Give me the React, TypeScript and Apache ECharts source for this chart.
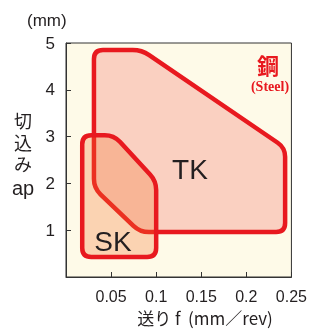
import React, { useEffect, useRef } from "react";
import * as echarts from "echarts";

// Data (feed f in mm/rev, depth of cut ap in mm)
const xTicks = [0, 0.05, 0.1, 0.15, 0.2, 0.25];
const yTicks = [0, 1, 2, 3, 4, 5];
const tkF = [0.031, 0.084, 0.243, 0.243, 0.082, 0.031];
const tkAp = [4.85, 4.85, 2.76, 0.96, 0.96, 1.9];
const skF = [0.018, 0.018, 0.053, 0.1, 0.1];
const skAp = [0.43, 3.03, 3.03, 2.05, 0.43];
const regionNames = ["TK", "SK"];

const RED = "#E8191F";
const INK = "#231F20";
const SANS = "'Liberation Sans', Arial, Helvetica, sans-serif";
const CJK = "'Noto Sans CJK JP', 'Liberation Sans', sans-serif";
const CJK_TIGHT = "'Liberation Sans', 'Noto Sans CJK JP', sans-serif";

function roundedPath(pts: number[][], r: number): string {
  const n = pts.length;
  let d = "";
  for (let i = 0; i < n; i++) {
    const p = pts[i];
    const prev = pts[(i - 1 + n) % n];
    const next = pts[(i + 1) % n];
    const l1 = Math.hypot(prev[0] - p[0], prev[1] - p[1]);
    const l2 = Math.hypot(next[0] - p[0], next[1] - p[1]);
    const r1 = Math.min(r, l1 / 2);
    const r2 = Math.min(r, l2 / 2);
    const a = [p[0] + ((prev[0] - p[0]) * r1) / l1, p[1] + ((prev[1] - p[1]) * r1) / l1];
    const b = [p[0] + ((next[0] - p[0]) * r2) / l2, p[1] + ((next[1] - p[1]) * r2) / l2];
    d += (i === 0 ? "M" : "L") + a[0].toFixed(2) + "," + a[1].toFixed(2);
    d += "Q" + p[0].toFixed(2) + "," + p[1].toFixed(2) + " " + b[0].toFixed(2) + "," + b[1].toFixed(2);
  }
  return d + "Z";
}

function makeRegion(name: string, fs: number[], aps: number[], fill: string, radius: number) {
  const data = fs.map((f, i) => [f, aps[i]]);
  return {
    type: "custom",
    name,
    data,
    z: 3,
    renderItem: (params: any, api: any) => {
      if (params.dataIndex !== 0) return null;
      const pts = data.map((v) => api.coord(v));
      return {
        type: "path",
        shape: { pathData: roundedPath(pts, radius) },
        style: { fill, stroke: RED, lineWidth: 4.5, lineJoin: "round" },
      };
    },
  };
}

export default function App() {
  const ref = useRef<HTMLDivElement>(null);
  useEffect(() => {
    if (!ref.current) return;
    const chart = echarts.init(ref.current, null, { renderer: "svg" });
    chart.setOption({
      animation: false,
      grid: {
        left: 66,
        top: 43,
        width: 233,
        height: 234,
        show: true,
        backgroundColor: "#FEFAE8",
        borderColor: "#333",
        borderWidth: 1,
      },
      xAxis: {
        type: "value",
        min: xTicks[0],
        max: xTicks[xTicks.length - 1],
        interval: 0.05,
        axisLine: { show: true, lineStyle: { color: "#333", width: 1 } },
        axisTick: { show: true, inside: true, length: 5, lineStyle: { color: "#333" } },
        splitLine: { show: false },
        axisLabel: {
          margin: 11,
          fontSize: 16,
          lineHeight: 16,
          fontFamily: SANS,
          color: INK,
          formatter: (v: number) => (v === 0 ? "" : String(Number(v.toFixed(2)))),
        },
      },
      yAxis: {
        type: "value",
        min: yTicks[0],
        max: yTicks[yTicks.length - 1],
        interval: 1,
        axisLine: { show: true, lineStyle: { color: "#333", width: 1 } },
        axisTick: { show: true, inside: true, length: 5, lineStyle: { color: "#333" } },
        splitLine: { show: false },
        axisLabel: {
          margin: 11,
          fontSize: 17,
          fontFamily: SANS,
          color: INK,
          formatter: (v: number) => (v === 0 ? "" : String(v)),
        },
      },
      series: [
        makeRegion(regionNames[0], tkF, tkAp, "rgba(240,90,80,0.26)", 9),
        makeRegion(regionNames[1], skF, skAp, "rgba(245,110,40,0.28)", 9),
      ],
      graphic: [
        { type: "text", left: 27, top: 12, style: { text: "(mm)", fontSize: 17, fontFamily: SANS, fill: INK } },
        { type: "text", x: 23, y: 122, style: { text: "切", fontSize: 18, lineHeight: 18, fontFamily: CJK_TIGHT, fill: INK, align: "center", verticalAlign: "middle" } },
        { type: "text", x: 23, y: 143.5, style: { text: "込", fontSize: 18, lineHeight: 18, fontFamily: CJK_TIGHT, fill: INK, align: "center", verticalAlign: "middle" } },
        { type: "text", x: 23, y: 165, style: { text: "み", fontSize: 18, lineHeight: 18, fontFamily: CJK_TIGHT, fill: INK, align: "center", verticalAlign: "middle" } },
        { type: "text", x: 23, y: 188, style: { text: "ap", fontSize: 20, lineHeight: 20, fontFamily: SANS, fill: INK, align: "center", verticalAlign: "middle" } },
        { type: "text", x: 205, y: 317, style: { text: "送り f  (mm／rev)", fontSize: 17, lineHeight: 17, fontFamily: CJK, fill: INK, align: "center", verticalAlign: "middle" } },
        { type: "text", x: 190, y: 169, z: 10, style: { text: regionNames[0], fontSize: 28, fontFamily: SANS, fill: INK, align: "center", verticalAlign: "middle" } },
        { type: "text", x: 113, y: 241, z: 10, style: { text: regionNames[1], fontSize: 28, fontFamily: SANS, fill: INK, align: "center", verticalAlign: "middle" } },
        { type: "text", x: 268, y: 64, z: 10, style: { text: "鋼", fontSize: 22, fontWeight: "bold", fontFamily: CJK, fill: RED, align: "center", verticalAlign: "middle" } },
        { type: "text", x: 270, y: 86, z: 10, style: { text: "(Steel)", fontSize: 14, fontWeight: "bold", fontFamily: "'Liberation Serif', 'Times New Roman', serif", fill: RED, align: "center", verticalAlign: "middle" } },
      ],
    });
    return () => chart.dispose();
  }, []);
  return <div ref={ref} style={{ position: "fixed", left: 0, top: 0, width: 310, height: 329 }} />;
}
